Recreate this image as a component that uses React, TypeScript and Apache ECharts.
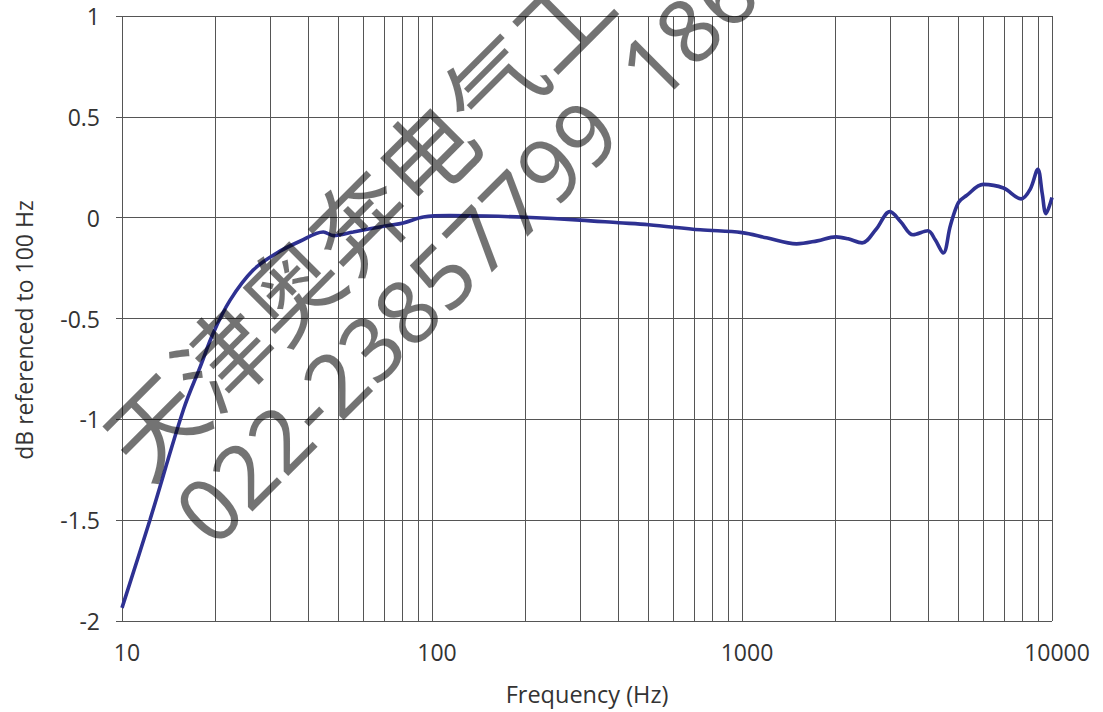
import React, { useEffect, useRef } from "react";
import * as echarts from "echarts";

const freqHz = [10, 12.3, 15.8, 17.9, 19.7, 22.3, 26.5, 31.6, 37.5, 44.6, 48.1, 55.7, 71.4, 80.8, 93.8, 114, 150, 200, 300, 400, 500, 733, 1000, 1200, 1500, 1750, 2010, 2200, 2440, 2700, 3000, 3250, 3560, 3980, 4200, 4460, 4700, 4990, 5300, 6000, 6970, 7950, 8500, 9000, 9300, 9560, 10000];
const dbValues = [-1.935, -1.5, -0.95, -0.737, -0.572, -0.41, -0.26, -0.175, -0.117, -0.071, -0.089, -0.071, -0.04, -0.026, 0.003, 0.01, 0.008, 0.002, -0.012, -0.025, -0.035, -0.06, -0.074, -0.1, -0.13, -0.115, -0.095, -0.105, -0.125, -0.06, 0.03, -0.02, -0.085, -0.065, -0.11, -0.175, -0.04, 0.075, 0.11, 0.165, 0.147, 0.093, 0.14, 0.24, 0.12, 0.02, 0.1];
const minorGridHz = [20, 30, 40, 50, 60, 70, 80, 90, 200, 300, 400, 500, 600, 700, 800, 900, 2000, 3000, 4000, 5000, 6000, 7000, 8000, 9000];
const xTitle = "Frequency (Hz)";
const yTitle = "dB referenced to 100 Hz";
const watermarkLine1 = "天津奥奔电气工";
const watermarkLine2 = "022-23857799  186";

export default function App() {
  const ref = useRef<HTMLDivElement>(null);
  useEffect(() => {
    if (!ref.current) return;
    const chart = echarts.init(ref.current, null, { renderer: "svg" });
    const gridColor = "#555";
    const font = "'Open Sans', sans-serif";
    chart.setOption({
      animation: false,
      grid: { left: 122, right: 51, top: 16, bottom: 91, containLabel: false, outerBoundsMode: "none" },
      xAxis: {
        type: "log",
        logBase: 10,
        min: 10,
        max: 10000,
        name: xTitle,
        nameLocation: "middle",
        nameGap: 61,
        nameTextStyle: { fontSize: 23.5, color: "#333", fontFamily: font },
        axisLine: { show: false },
        axisTick: { show: false },
        splitLine: { show: true, lineStyle: { color: gridColor, width: 1 } },
        axisLabel: {
          fontSize: 23,
          color: "#333",
          fontFamily: font,
          margin: 19,
          padding: [0, 0, 0, 10],
          formatter: (v: number) => String(Math.round(v)),
        },
      },
      yAxis: {
        type: "value",
        min: -2,
        max: 1,
        interval: 0.5,
        axisLine: { show: false },
        axisTick: { show: true, length: 6, lineStyle: { color: gridColor } },
        splitLine: { show: true, lineStyle: { color: gridColor, width: 1 } },
        axisLabel: {
          fontSize: 23,
          color: "#333",
          fontFamily: font,
          margin: 22,
          formatter: (v: number) => String(v),
        },
      },
      series: [
        {
          type: "line",
          data: freqHz.map((f, i) => [f, dbValues[i]]),
          showSymbol: false,
          smooth: 0.35,
          lineStyle: { color: "#2e3192", width: 3.6 },
          z: 3,
          markLine: {
            silent: true,
            symbol: ["none", "none"],
            label: { show: false },
            lineStyle: { color: gridColor, width: 1, type: "solid" },
            data: minorGridHz.map((f) => ({ xAxis: f })),
            z: 1,
          },
        },
      ],
      graphic: [
        {
          type: "text",
          x: 24,
          y: 330,
          rotation: Math.PI / 2,
          z: 50,
          style: {
            text: yTitle,
            fill: "#333",
            font: "23px 'Open Sans', sans-serif",
            textAlign: "center",
            textVerticalAlign: "middle",
          },
        },
        {
          type: "text",
          x: 118,
          y: 456,
          rotation: Math.PI / 4,
          z: 100,
          style: {
            text: watermarkLine1,
            fill: "rgba(0,0,0,0.55)",
            font: "96px 'Noto Sans CJK SC'",
            textAlign: "left",
            textVerticalAlign: "middle",
          },
        },
        {
          type: "text",
          x: 190,
          y: 526,
          rotation: Math.PI / 4,
          z: 100,
          style: {
            text: watermarkLine2,
            fill: "rgba(0,0,0,0.55)",
            font: "88px 'Noto Sans', sans-serif",
            textAlign: "left",
            textVerticalAlign: "middle",
          },
        },
      ],
    });
    return () => chart.dispose();
  }, []);
  return (
    <div
      ref={ref}
      style={{ position: "fixed", left: 0, top: 0, width: 1103, height: 712, background: "#fff" }}
    />
  );
}
